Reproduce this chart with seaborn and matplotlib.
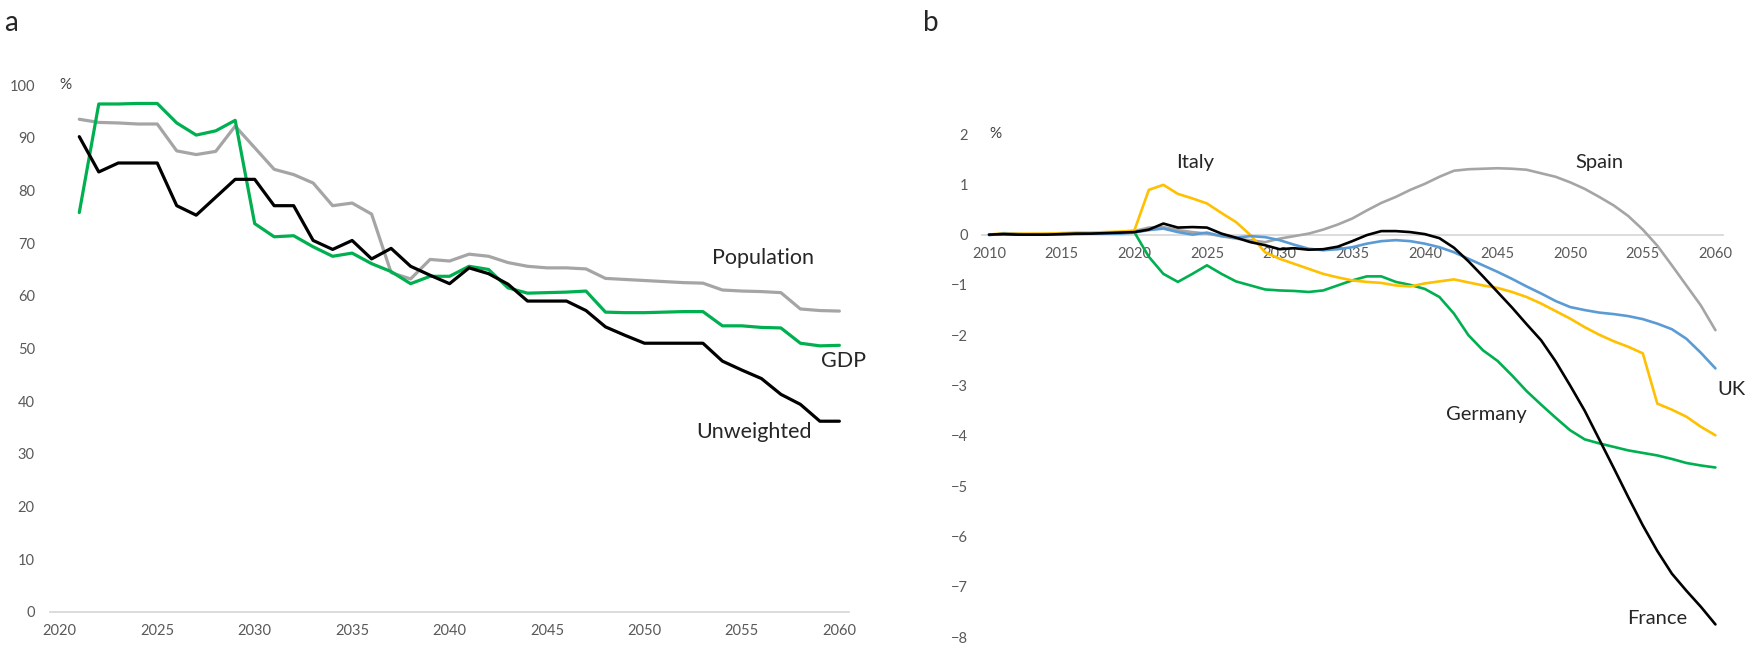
import numpy as np
import pandas as pd
import matplotlib
matplotlib.use("Agg")
import matplotlib.pyplot as plt
import seaborn as sns

# --- panel a : share (%) ---
years_a = list(range(2021, 2061))
unweighted = [90.2, 83.5, 85.2, 85.2, 85.2, 77.1, 75.3, 78.7, 82.1, 82.1,
              77.1, 77.1, 70.5, 68.8, 70.5, 67.0, 69.0, 65.6, 63.9, 62.3,
              65.3, 64.2, 62.2, 59.0, 59.0, 59.0, 57.2, 54.1, 52.5, 51.0,
              51.0, 51.0, 51.0, 47.6, 45.9, 44.3, 41.3, 39.4, 36.2, 36.2]
gdp = [75.8, 96.4, 96.4, 96.5, 96.5, 92.8, 90.5, 91.3, 93.3, 73.7,
       71.2, 71.4, 69.3, 67.5, 68.1, 66.1, 64.6, 62.3, 63.7, 63.7,
       65.6, 65.0, 61.5, 60.5, 60.6, 60.7, 60.9, 56.9, 56.8, 56.8,
       56.9, 57.0, 57.0, 54.3, 54.3, 54.0, 53.9, 51.0, 50.5, 50.6]
population = [93.5, 92.9, 92.8, 92.6, 92.6, 87.5, 86.8, 87.4, 92.2, 88.1,
              84.0, 83.0, 81.4, 77.1, 77.6, 75.5, 64.4, 63.2, 66.9, 66.6,
              67.9, 67.5, 66.3, 65.6, 65.3, 65.3, 65.1, 63.3, 63.1, 62.9,
              62.7, 62.5, 62.4, 61.1, 60.9, 60.8, 60.6, 57.5, 57.2, 57.1]

# --- panel b : deviation (%) by country ---
years_b = list(range(2010, 2061))
france = [0.0, 0.01, 0.0, 0.0, 0.0, 0.01, 0.02, 0.02, 0.03, 0.04,
          0.05, 0.10, 0.22, 0.14, 0.15, 0.14, 0.02, -0.06, -0.15, -0.21,
          -0.29, -0.27, -0.30, -0.29, -0.24, -0.13, -0.01, 0.07, 0.07, 0.05,
          0.01, -0.07, -0.26, -0.53, -0.83, -1.14, -1.45, -1.78, -2.10, -2.52,
          -3.00, -3.50, -4.07, -4.64, -5.22, -5.78, -6.29, -6.74, -7.08, -7.40,
          -7.75]
germany = [0.0, 0.01, 0.0, 0.0, 0.01, 0.01, 0.02, 0.02, 0.03, 0.03,
           0.05, -0.44, -0.78, -0.94, -0.78, -0.61, -0.78, -0.93, -1.01, -1.09,
           -1.11, -1.12, -1.14, -1.11, -1.01, -0.91, -0.83, -0.83, -0.94, -1.00,
           -1.08, -1.24, -1.57, -2.00, -2.30, -2.51, -2.80, -3.11, -3.38, -3.64,
           -3.89, -4.07, -4.15, -4.22, -4.29, -4.34, -4.39, -4.46, -4.54, -4.59,
           -4.63]
italy = [0.0, 0.03, 0.02, 0.02, 0.02, 0.03, 0.04, 0.04, 0.05, 0.06,
         0.08, 0.89, 0.99, 0.81, 0.72, 0.62, 0.43, 0.25, -0.01, -0.35,
         -0.48, -0.58, -0.68, -0.78, -0.85, -0.91, -0.94, -0.96, -1.01, -1.03,
         -0.97, -0.93, -0.89, -0.95, -1.01, -1.06, -1.14, -1.24, -1.37, -1.52,
         -1.67, -1.84, -1.99, -2.12, -2.23, -2.36, -3.36, -3.48, -3.62, -3.82,
         -3.99]
spain = [0.0, 0.01, 0.0, 0.01, 0.01, 0.02, 0.03, 0.03, 0.04, 0.05,
         0.07, 0.14, 0.15, 0.09, 0.05, 0.02, -0.03, -0.08, -0.11, -0.15,
         -0.08, -0.03, 0.02, 0.10, 0.20, 0.32, 0.48, 0.63, 0.75, 0.89,
         1.01, 1.15, 1.27, 1.30, 1.31, 1.32, 1.31, 1.29, 1.22, 1.15,
         1.04, 0.91, 0.75, 0.58, 0.37, 0.10, -0.22, -0.61, -1.01, -1.41,
         -1.90]
uk = [-0.01, 0.02, 0.01, 0.0, 0.0, 0.01, 0.01, 0.02, 0.02, 0.02,
      0.04, 0.09, 0.12, 0.05, 0.0, 0.04, -0.03, -0.06, -0.03, -0.05,
      -0.11, -0.20, -0.28, -0.31, -0.29, -0.25, -0.18, -0.13, -0.11, -0.13,
      -0.18, -0.25, -0.35, -0.48, -0.61, -0.74, -0.88, -1.03, -1.17, -1.32,
      -1.44, -1.50, -1.55, -1.58, -1.62, -1.68, -1.77, -1.88, -2.07, -2.35,
      -2.66]

GREY, GREEN, BLACK = "#A5A5A5", "#00B050", "#000000"
YELLOW, BLUE = "#FFC000", "#5B9BD5"
TICK = "#595959"

sns.set_style("white")
plt.rcParams['font.family'] = ['Lato', 'DejaVu Sans']

fig = plt.figure(figsize=(17.5, 6.45), dpi=100)

# ---------- panel a ----------
ax1 = fig.add_axes([0.0286, 0.0512, 0.4566, 0.817])
df_a = pd.DataFrame({'year': years_a, 'Population': population,
                     'GDP': gdp, 'Unweighted': unweighted})
for col, color in [('Population', GREY), ('GDP', GREEN), ('Unweighted', BLACK)]:
    sns.lineplot(data=df_a, x='year', y=col, ax=ax1, color=color, lw=2.3)

ax1.set_xlim(2019.5, 2060.5)
ax1.set_ylim(0, 100)
ax1.set_xticks(range(2020, 2061, 5))
ax1.set_yticks(range(0, 101, 10))
ax1.set_xlabel('')
ax1.set_ylabel('')
for s in ['top', 'right', 'left']:
    ax1.spines[s].set_visible(False)
ax1.spines['bottom'].set_color('#D9D9D9')
ax1.spines['bottom'].set_linewidth(1.3)
ax1.tick_params(length=0, labelsize=10.5, labelcolor=TICK)
ax1.tick_params(axis='y', pad=11)
ax1.tick_params(axis='x', pad=9)
ax1.text(2020.0, 100, '%', fontsize=11, color='#404040', va='center', ha='left')

ax1.text(2056.1, 67.2, 'Population', fontsize=15.5, ha='center', va='center')
ax1.text(2060.2, 47.6, 'GDP', fontsize=15.5, ha='center', va='center')
ax1.text(2055.6, 34.2, 'Unweighted', fontsize=15.5, ha='center', va='center')

# ---------- panel b ----------
ax2 = fig.add_axes([0.561, 0.0124, 0.4234, 0.7798])
df_b = pd.DataFrame({'year': years_b, 'Spain': spain, 'Germany': germany,
                     'Italy': italy, 'UK': uk, 'France': france})
for col, color in [('Spain', GREY), ('Germany', GREEN), ('Italy', YELLOW),
                   ('UK', BLUE), ('France', BLACK)]:
    sns.lineplot(data=df_b, x='year', y=col, ax=ax2, color=color, lw=1.9)

ax2.set_xlim(2009.5, 2060.5)
ax2.set_ylim(-8, 2)
ax2.set_xticks(range(2010, 2061, 5))
ax2.set_yticks(range(-8, 3, 1))
ax2.set_xlabel('')
ax2.set_ylabel('')
for s in ['top', 'right', 'left']:
    ax2.spines[s].set_visible(False)
ax2.spines['bottom'].set_position(('data', 0))
ax2.spines['bottom'].set_color('#D9D9D9')
ax2.spines['bottom'].set_linewidth(1.3)
ax2.spines['bottom'].set_zorder(0)
ax2.tick_params(length=0, labelsize=10.5, labelcolor=TICK)
ax2.tick_params(axis='y', pad=10)
ax2.tick_params(axis='x', pad=9)
ax2.text(2010.0, 2, '%', fontsize=11, color='#404040', va='center', ha='left')

ax2.text(2024.2, 1.44, 'Italy', fontsize=14.5, ha='center', va='center')
ax2.text(2052.0, 1.44, 'Spain', fontsize=14.5, ha='center', va='center')
ax2.text(2061.1, -3.08, 'UK', fontsize=14.5, ha='center', va='center')
ax2.text(2044.2, -3.58, 'Germany', fontsize=14.5, ha='center', va='center')
ax2.text(2056.0, -7.63, 'France', fontsize=14.5, ha='center', va='center')

fig.text(11 / 1750, 1 - 23 / 645, 'a', fontsize=20, ha='center', va='center')
fig.text(931 / 1750, 1 - 23 / 645, 'b', fontsize=20, ha='center', va='center')

fig.savefig('out.png', dpi=100)
